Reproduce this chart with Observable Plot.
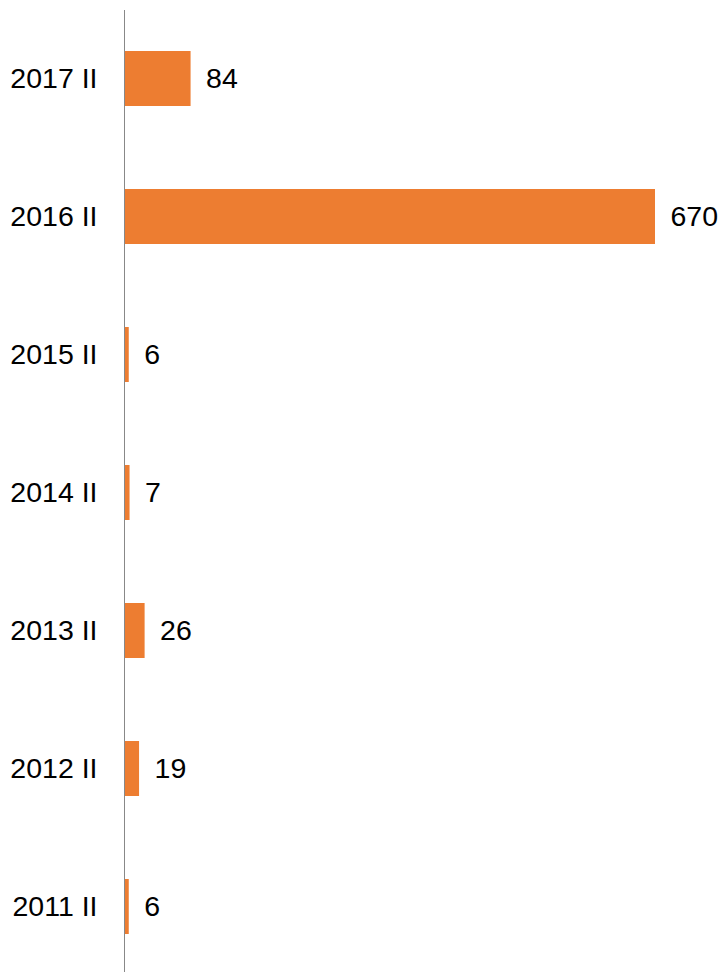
<!DOCTYPE html>
<html>
<head>
<meta charset="utf-8">
<script src="https://cdn.jsdelivr.net/npm/d3@7"></script>
<script src="https://cdn.jsdelivr.net/npm/@observablehq/plot@0.6"></script>
<style>
  html, body { margin: 0; padding: 0; background: #fff; }
</style>
</head>
<body>
<div id="chart"></div>
<script>
const categories = ["2017 II", "2016 II", "2015 II", "2014 II", "2013 II", "2012 II", "2011 II"];
const values = [84, 670, 6, 7, 26, 19, 6];

const data = categories.map((c, i) => ({ period: c, value: values[i] }));

const chart = Plot.plot({
  width: 722,
  height: 974,
  marginLeft: 124,
  marginRight: 67,
  marginTop: 10,
  marginBottom: 2,
  style: { fontFamily: "Arial, 'Liberation Sans', sans-serif", fontSize: "28.5px", color: "#000", background: "#fff" },
  x: { domain: [0, 670], axis: null },
  y: { domain: categories, paddingInner: 0.6, paddingOuter: 0.28, align: 0.52, label: null, tickSize: 0, tickPadding: 27 },
  marks: [
    Plot.barX(data, { x: "value", y: "period", fill: "#ED7D31" }),
    Plot.ruleX([0], { stroke: "#888", strokeWidth: 1 }),
    Plot.text(data, { x: "value", y: "period", text: d => String(d.value), dx: 15, textAnchor: "start", fontSize: 28.5, fill: "#000" })
  ]
});
document.getElementById("chart").appendChild(chart);
</script>
</body>
</html>
